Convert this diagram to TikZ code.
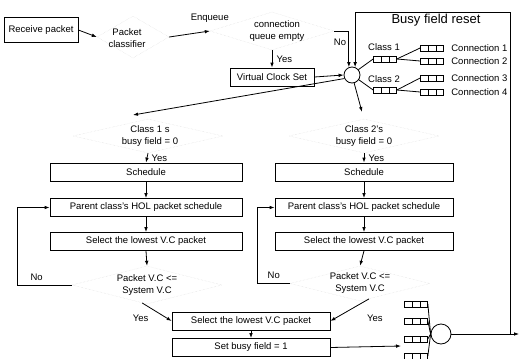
\documentclass[tikz,border=0pt]{standalone}
\usepackage{fontspec}
\setmainfont{Liberation Sans}
\usetikzlibrary{shapes.geometric,arrows.meta,calc}
\tikzset{
  every node/.style={font=\fontsize{9.5}{12}\selectfont},
  box/.style={draw, rectangle, line width=0.8pt, minimum height=18pt, inner sep=1pt},
  dia/.style={draw=gray!30, densely dotted, diamond, inner sep=0pt},
  txt/.style={align=center, inner sep=0pt},
  ln/.style={line width=0.8pt},
  arr/.style={ln, -{Latex[length=5pt,width=3.6pt]}},
  hub/.style={draw, circle, line width=0.8pt, inner sep=0pt},
  queue/.style={draw, line width=0.7pt, minimum width=23pt, minimum height=6pt, inner sep=0pt,
    path picture={\draw[line width=0.6pt]
      ($(path picture bounding box.south west)!0.333!(path picture bounding box.south east)$) --
      ($(path picture bounding box.north west)!0.333!(path picture bounding box.north east)$)
      ($(path picture bounding box.south west)!0.667!(path picture bounding box.south east)$) --
      ($(path picture bounding box.north west)!0.667!(path picture bounding box.north east)$);}},
  conlabel/.style={anchor=west, xshift=4pt}
}
\begin{document}
\begin{tikzpicture}[x=1pt,y=-1pt]
\useasboundingbox (0,0) rectangle (520,359);
% ---------- top row ----------
\node[box, minimum width=74pt, minimum height=25pt] (rp) at (41,30) {Receive packet};
\node[dia, minimum width=72pt, minimum height=42pt] (pc) at (133,37) {};
\node[txt] (pct) at (127,38) {Packet\\classifier};
\node[dia, minimum width=124pt, minimum height=38pt] (cqe) at (272,31) {};
\node[txt] (cqet) at (277,31) {connection\\queue empty};
\draw[arr] (rp.east) -- (pc.west);
\draw[arr] (pc.east) -- (cqe.west) node[pos=1, above=5pt] {Enqueue};
\node[box, minimum width=84pt] (vcs) at (272,77) {Virtual Clock Set};
\draw[arr] (cqe.south) -- (vcs.north) node[midway, right=1pt] {Yes};
% scheduler
\node[hub, minimum size=16pt] (sch) at (352,75) {};
\draw[arr] (vcs.east) -- (sch.west);
\draw[arr] (cqe.east) -| node[pos=0.2, below=4pt] {No} (sch.112);
% feedback loop
\coordinate (fbtop) at (510,12);
\coordinate (tap) at (510,334);
\draw[arr] (tap) -- (fbtop) -| (sch.68);
\node[font=\fontsize{13}{15}\selectfont] (bfr) at (436,20) {Busy field reset};
% class and connection queues
\node[queue] (c1q) at (385,59) {};
\node[queue] (c2q) at (385,90) {};
\node (c1l) at (384,47) {Class 1};
\node (c2l) at (384,79) {Class 2};
\node[queue] (cq1) at (432,48) {};
\node[queue] (cq2) at (432,61) {};
\node[queue] (cq3) at (432,78) {};
\node[queue] (cq4) at (432,92) {};
\node[conlabel] at (cq1.east) {Connection 1};
\node[conlabel] at (cq2.east) {Connection 2};
\node[conlabel] at (cq3.east) {Connection 3};
\node[conlabel] at (cq4.east) {Connection 4};
\draw[ln] (sch.40) -- (c1q.west);
\draw[ln] (sch.-35) -- (c2q.west);
\draw[ln] (c1q.east) -- (cq1.west);
\draw[ln] (c1q.east) -- (cq2.west);
\draw[ln] (c2q.east) -- (cq3.west);
\draw[ln] (c2q.east) -- (cq4.west);
% branches to classes
\coordinate (c1in) at (133,115);
\coordinate (c2in) at (362,112);
\draw[arr] (sch.205) -- (c1in);
\draw[arr] (sch.285) -- (c2in);
% ---------- left column ----------
\node[dia, minimum width=150pt, minimum height=34pt] (c1d) at (148,136) {};
\node[txt] at (150,136) {Class 1 s\\busy field = 0};
\node[box, minimum width=192pt] (s1) at (146,172) {Schedule};
\node[box, minimum width=192pt] (p1) at (146,207.5) {Parent class's HOL packet schedule};
\node[box, minimum width=192pt] (l1) at (146,241.5) {Select the lowest V.C packet};
\draw[arr] (c1d.south) -- (s1.north) node[midway, right=1pt] {Yes};
\draw[arr] (s1.south) -- (p1.north);
\draw[arr] (p1.south) -- (l1.north);
\node[dia, minimum width=150pt, minimum height=38pt] (d1) at (147,285) {};
\node[txt] at (147,285) {Packet V.C <=\\System V.C};
\draw[arr] (l1.south) -- (d1.north);
\draw[arr] (d1.west) -- node[pos=0.65, above=1pt] {No} ++(-54,0) |- (p1.west);
% ---------- right column ----------
\node[dia, minimum width=150pt, minimum height=34pt] (c2d) at (364,136) {};
\node[txt] at (364,136) {Class 2's\\busy field = 0};
\node[box, minimum width=178pt] (s2) at (364,172) {Schedule};
\node[box, minimum width=178pt] (p2) at (364,207.5) {Parent class's HOL packet schedule};
\node[box, minimum width=178pt] (l2) at (364,241.5) {Select the lowest V.C packet};
\draw[arr] (c2d.south) -- (s2.north) node[midway, right=1pt] {Yes};
\draw[arr] (s2.south) -- (p2.north);
\draw[arr] (p2.south) -- (l2.north);
\node[dia, minimum width=140pt, minimum height=35pt] (d2) at (360,283.5) {};
\node[txt] at (360,283.5) {Packet V.C <=\\System V.C};
\draw[arr] (l2.south) -- (d2.north);
\draw[arr] (d2.west) -- node[pos=0.5, above=1pt] {No} ++(-32,0) |- (p2.west);
% ---------- bottom ----------
\node[box, minimum width=158pt] (bs) at (251,321) {Select the lowest V.C packet};
\node[box, minimum width=158pt] (bf) at (251,347.5) {Set busy field = 1};
\draw[arr] (bs.south) -- (bf.north);
\draw[arr] (d1.255) -- node[pos=0.05, below=7pt, xshift=-3pt] {Yes} (bs.west);
\draw[arr] (d2.300) -- node[pos=0.0, below=12pt, xshift=6pt] {Yes} (bs.east);
\coordinate (bqin) at (401,346);
\draw[arr] (bf.east) -- (bqin);
\node[queue] (bq1) at (416,304) {};
\node[queue] (bq2) at (416,321) {};
\node[queue] (bq3) at (416,339) {};
\node[queue] (bq4) at (416,356) {};
\node[hub, minimum size=20pt] (bc) at (441,334) {};
\foreach \q in {bq1,bq2,bq3,bq4} \draw[ln] (\q.east) -- (bc.west);
\coordinate (out) at (519,334);
\draw[arr] (bc.east) -- (out);
\end{tikzpicture}
\end{document}
